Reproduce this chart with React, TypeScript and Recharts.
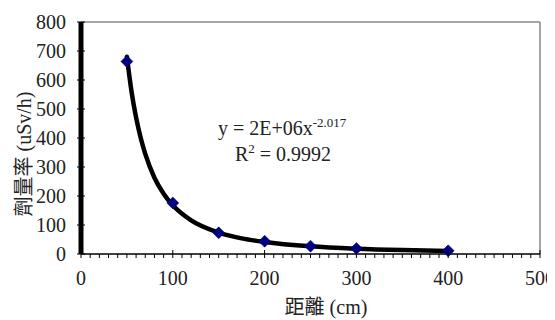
import {
  ComposedChart,
  Line,
  ReferenceLine,
  Scatter,
  XAxis,
  YAxis,
} from 'recharts';

// 量測點：距離 (cm) 對應劑量率 (uSv/h)
const distanceCm = [50, 100, 150, 200, 250, 300, 400];
const doseRate = [664, 176, 73, 44, 27, 19, 11];

// 乘冪趨勢線（從圖上讀出的曲線位置）
const trendX = [50, 55, 60, 65, 70, 80, 90, 100, 120, 150, 175, 200, 250, 300, 350, 400];
const trendY = [680, 561, 471, 401, 345, 263, 208, 168, 116, 74, 54, 41.5, 26.5, 18.3, 13.4, 10.3];

const xMajorTicks = [0, 100, 200, 300, 400, 500];
const yTicks = [0, 100, 200, 300, 400, 500, 600, 700, 800];
const xAllTicks = Array.from({ length: 51 }, (_, i) => i * 10);

const SERIF = '"Liberation Serif", serif';
const CJK = '"Noto Sans CJK TC", sans-serif';
const TEXT = '#222';

const points = distanceCm.map((x, i) => ({ x, y: doseRate[i] }));
const trend = trendX.map((x, i) => ({ x, y: trendY[i] }));

function XTick({ x, y, payload }: any) {
  const v = payload.value as number;
  const major = xMajorTicks.includes(v);
  return (
    <g>
      <line x1={x} x2={x} y1={major ? y - 4 : y} y2={y + 4} stroke="#000" strokeWidth={1} />
      {major && (
        <text x={x} y={y + 31} textAnchor="middle" style={{ fontSize: 20, fontFamily: SERIF, fill: TEXT }}>
          {v}
        </text>
      )}
    </g>
  );
}

function YTick({ x, y, payload }: any) {
  return (
    <g>
      <line x1={x - 4} x2={x + 4} y1={y} y2={y} stroke="#000" strokeWidth={1} />
      <text x={x - 15} y={y + 7} textAnchor="end" style={{ fontSize: 20, fontFamily: SERIF, fill: TEXT }}>
        {payload.value}
      </text>
    </g>
  );
}

function Diamond({ cx, cy }: any) {
  const r = 6;
  return (
    <polygon
      points={`${cx},${cy - r} ${cx + r},${cy} ${cx},${cy + r} ${cx - r},${cy}`}
      fill="#000080"
      stroke="#000060"
      strokeWidth={0.5}
    />
  );
}

const labelStyle = {
  position: 'absolute' as const,
  whiteSpace: 'nowrap' as const,
  fontSize: 20,
  lineHeight: '20px',
  color: TEXT,
  fontFamily: SERIF,
};

export default function App() {
  return (
    <div style={{ position: 'relative', width: 547, height: 312, fontFamily: SERIF }}>
      <ComposedChart width={547} height={312} margin={{ top: 14, right: 15, bottom: 1, left: 0 }}>
        <XAxis
          type="number"
          dataKey="x"
          domain={[0, 500]}
          ticks={xAllTicks}
          interval={0}
          tick={<XTick />}
          tickLine={false}
          tickSize={0}
          tickMargin={0}
          height={65}
          axisLine={{ stroke: '#000', strokeWidth: 1.5 }}
        />
        <YAxis
          type="number"
          dataKey="y"
          domain={[0, 800]}
          ticks={yTicks}
          interval={0}
          tick={<YTick />}
          tickLine={false}
          tickSize={0}
          tickMargin={0}
          width={73}
          axisLine={{ stroke: '#000', strokeWidth: 5 }}
        />
        <ReferenceLine y={800} stroke="#888" strokeWidth={1.5} />
        <ReferenceLine x={500} stroke="#888" strokeWidth={1.5} />
        <Scatter data={points} dataKey="y" shape={<Diamond />} isAnimationActive={false} />
        <Line
          data={trend}
          dataKey="y"
          type="monotone"
          stroke="#000"
          strokeWidth={4.5}
          strokeLinecap="round"
          dot={false}
          activeDot={false}
          isAnimationActive={false}
        />
      </ComposedChart>
      <div
        style={{
          ...labelStyle,
          left: 15,
          top: 146,
          transform: 'translate(-50%, -50%) rotate(-90deg)',
        }}
      >
        <span style={{ fontFamily: CJK }}>劑量率</span> (uSv/h)
      </div>
      <div style={{ ...labelStyle, left: 318, top: 298, transform: 'translate(-50%, -50%)' }}>
        <span style={{ fontFamily: CJK }}>距離</span> (cm)
      </div>
      <div style={{ ...labelStyle, left: 210, top: 110 }}>
        y = 2E+06x
        <span style={{ fontSize: 13, position: 'relative', top: -8 }}>-2.017</span>
      </div>
      <div style={{ ...labelStyle, left: 227, top: 136 }}>
        R<span style={{ fontSize: 13, position: 'relative', top: -8 }}>2</span> = 0.9992
      </div>
    </div>
  );
}
